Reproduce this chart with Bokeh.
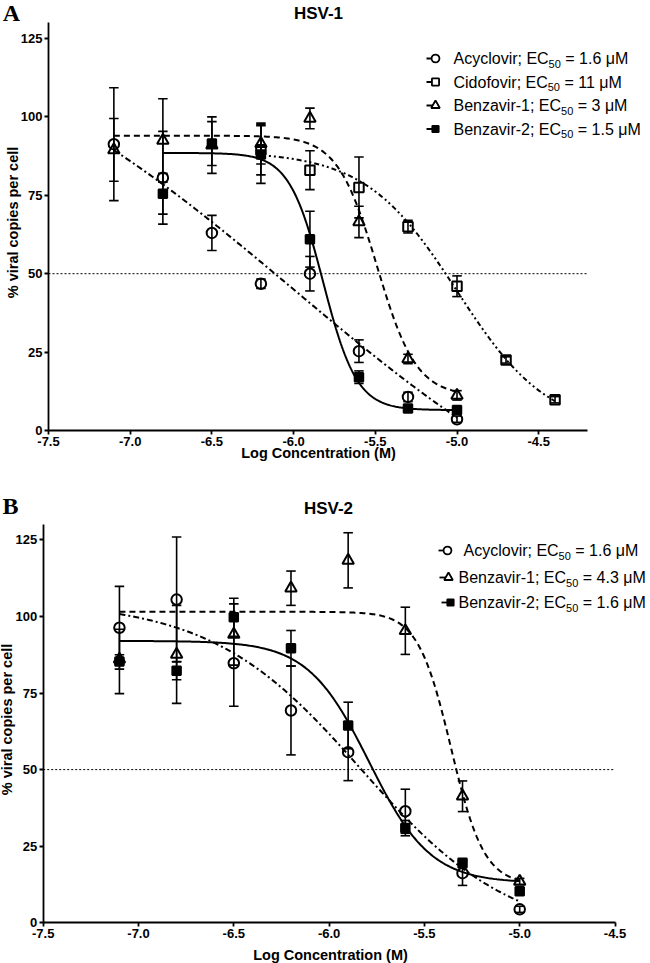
import numpy as np
from bokeh.plotting import figure
from bokeh.models import (Range1d, FixedTicker, PrintfTickFormatter, Whisker,
                          ColumnDataSource, Label, TeeHead)
from bokeh.layouts import column
from bokeh.embed import file_html
from bokeh.resources import INLINE

# ------------------------------------------------------------------ data
X_TICKS = [-7.5, -7.0, -6.5, -6.0, -5.5, -5.0, -4.5]
Y_TICKS = [0, 25, 50, 75, 100, 125]

# ---- Panel A : HSV-1
A_ACY_X = [-7.1, -6.8, -6.5, -6.2, -5.9, -5.6, -5.3, -5.0]
A_ACY_Y = [91.3, 80.6, 63.0, 46.8, 50.0, 25.3, 10.7, 3.6]
A_ACY_E = [18.0, 14.8, 5.6, 1.5, 5.5, 3.6, 1.5, 1.0]
A_ACY_FIT = [140.0, -50.0, -6.0, 0.4]          # top, bottom, logEC50, hill

A_CID_X = [-6.2, -5.9, -5.6, -5.3, -5.0, -4.7, -4.4]
A_CID_Y = [89.5, 83.0, 77.5, 65.0, 46.0, 22.5, 9.8]
A_CID_E = [8.0, 6.2, 9.7, 2.0, 3.3, 1.0, 1.0]
A_CID_FIT = [89.0, 0.0, -5.0, 1.55]

A_BZ1_X = [-7.1, -6.8, -6.5, -6.2, -5.9, -5.6, -5.3, -5.0]
A_BZ1_Y = [89.5, 92.5, 91.0, 91.5, 99.5, 66.5, 22.8, 11.2]
A_BZ1_E = [10.0, 13.3, 9.0, 6.5, 3.3, 5.0, 1.5, 1.5]
A_BZ1_FIT = [94.0, 11.0, -5.49, 3.6]

A_BZ2_X = [-6.8, -6.5, -6.2, -5.9, -5.6, -5.3, -5.0]
A_BZ2_Y = [75.5, 91.5, 88.0, 61.0, 17.0, 7.0, 6.5]
A_BZ2_E = [6.5, 7.0, 9.2, 8.9, 2.0, 1.0, 1.0]
A_BZ2_FIT = [88.5, 6.5, -5.82, 4.2]

A_NAMES = ["Acyclovir", "Cidofovir", "Benzavir-1", "Benzavir-2"]
A_EC50 = ["1.6", "11", "3", "1.5"]

# ---- Panel B : HSV-2
B_ACY_X = [-7.1, -6.8, -6.5, -6.2, -5.9, -5.6, -5.3, -5.0]
B_ACY_Y = [96.3, 105.5, 84.7, 69.3, 55.7, 36.4, 16.2, 4.4]
B_ACY_E = [13.5, 20.4, 14.0, 14.5, 9.3, 7.2, 4.0, 1.0]
B_ACY_FIT = [105.0, -5.0, -5.83, 1.1]

B_BZ1_X = [-7.1, -6.8, -6.5, -6.2, -5.9, -5.6, -5.3, -5.0]
B_BZ1_Y = [86.0, 87.6, 94.1, 109.2, 118.3, 95.3, 41.3, 13.5]
B_BZ1_E = [1.5, 16.0, 10.0, 5.6, 9.0, 7.7, 5.0, 1.0]
B_BZ1_FIT = [101.5, 12.5, -5.36, 5.0]

B_BZ2_X = [-7.1, -6.8, -6.5, -6.2, -5.9, -5.6, -5.3, -5.0]
B_BZ2_Y = [85.3, 82.3, 99.7, 89.6, 64.4, 30.9, 19.5, 10.3]
B_BZ2_E = [10.5, 3.0, 6.2, 5.8, 7.6, 2.5, 1.5, 1.0]
B_BZ2_FIT = [92.0, 13.0, -5.79, 2.7]

B_NAMES = ["Acyclovir", "Benzavir-1", "Benzavir-2"]
B_EC50 = ["1.6", "4.3", "1.6"]

# ------------------------------------------------------------------ styles
STYLE = {
    "Acyclovir":  dict(marker="circle",   fill=None,    size=10.5, dash="6 3 2 3"),
    "Cidofovir":  dict(marker="square",   fill=None,    size=9.5,  dash="5 3 2 3 2 3"),
    "Benzavir-1": dict(marker="triangle", fill=None,    size=11.5, dash="6 4"),
    "Benzavir-2": dict(marker="square",   fill="black", size=8.5,  dash="solid"),
}
FONT = "Liberation Sans"
W = 650

# Arial / Liberation Sans advance widths (per 1000 em)
AW = {'A': 667, 'c': 500, 'y': 500, 'l': 222, 'o': 556, 'v': 500, 'i': 222, 'r': 333,
      ';': 278, ' ': 278, 'E': 667, 'C': 722, 'd': 556, 'f': 278, 'B': 667, 'e': 556,
      'n': 556, 'z': 500, 'a': 556, '-': 333, '=': 584, '.': 278, 'μ': 576, 'M': 833}


def tw(s, size):
    return sum(AW.get(ch, 556) for ch in s) * size / 1000.0


class Panel:
    """Maps picture pixels to data coordinates of one panel."""
    def __init__(self, height, top_off, FL, FB, SX, SY, axis_end):
        self.height, self.top_off = height, top_off
        self.FL, self.FB, self.SX, self.SY = FL, FB, SX, SY
        self.axis_end = axis_end

    def tx(self, xr):
        return -7.5 + (xr - self.FL) / self.SX

    def ty(self, yr):
        return (self.FB - (yr - self.top_off)) / self.SY


def logistic(fit, xs):
    top, bot, x0, h = fit
    xs = np.asarray(xs)
    return bot + (top - bot) / (1.0 + 10.0 ** ((xs - x0) * h))


def label(p, x, y, text, size, bold=False, font=FONT, angle=0.0, align="center",
          x_offset=0.0):
    p.add_layout(Label(x=x, y=y, text=text, text_font=font,
                       text_font_style="bold" if bold else "normal",
                       text_font_size=f"{size}px", angle=angle, text_align=align,
                       text_baseline="middle", text_color="black", x_offset=x_offset))


def build(P, series, names, ec50s, title, letter, title_ref, letter_ref,
          ylab_ref, xlab_ref, mark_x_ref, text_x_ref, rows_ref):
    x_start = -7.5 - P.FL / P.SX
    x_end = -7.5 + (W - P.FL) / P.SX
    y_start = -(P.height - P.FB) / P.SY
    y_end = P.FB / P.SY
    p = figure(width=W, height=P.height, x_range=Range1d(x_start, x_end),
               y_range=Range1d(y_start, y_end), output_backend="svg",
               toolbar_location=None, min_border=0)
    p.outline_line_color = None
    p.grid.visible = False
    p.background_fill_color = "white"
    p.border_fill_color = "white"

    p.xaxis[0].fixed_location = 0
    p.yaxis[0].fixed_location = -7.5
    for ax, ticks, bounds in ((p.xaxis[0], X_TICKS, (-7.5, P.axis_end)),
                              (p.yaxis[0], Y_TICKS, (0, 130))):
        ax.ticker = FixedTicker(ticks=ticks)
        ax.bounds = bounds
        ax.axis_line_width = 1.8
        ax.axis_line_color = "black"
        ax.major_tick_line_width = 1.8
        ax.major_tick_line_color = "black"
        ax.major_tick_out = 4
        ax.major_tick_in = 0
        ax.minor_tick_line_color = None
        ax.major_label_text_font = FONT
        ax.major_label_text_font_style = "bold"
        ax.major_label_text_font_size = "13px"
        ax.major_label_text_color = "black"
        ax.major_label_standoff = 2
    p.xaxis[0].formatter = PrintfTickFormatter(format="%.1f")

    # 50 % reference line
    p.line([-7.5, P.axis_end], [50, 50], line_color="black", line_width=1,
           line_dash="2 2")

    # fitted curves
    for name, (xs, ys, es, fit) in zip(names, series):
        st = STYLE[name]
        cx = np.linspace(min(xs), max(xs), 300)
        p.line(cx, logistic(fit, cx), line_color="black", line_width=2,
               line_dash=st["dash"])
    # error bars
    for name, (xs, ys, es, fit) in zip(names, series):
        src = ColumnDataSource(dict(
            base=xs, lower=[a - b for a, b in zip(ys, es)],
            upper=[a + b for a, b in zip(ys, es)]))
        p.add_layout(Whisker(source=src, base="base", lower="lower", upper="upper",
                             line_color="black", line_width=1.6,
                             upper_head=TeeHead(size=9.5, line_width=1.6, line_color="black"),
                             lower_head=TeeHead(size=9.5, line_width=1.6, line_color="black")))
    # markers
    for name, (xs, ys, es, fit) in zip(names, series):
        st = STYLE[name]
        p.scatter(xs, ys, marker=st["marker"], size=st["size"], line_color="black",
                  line_width=2, fill_color=st["fill"])

    # legend (glyph + text with subscript)
    fs, fsub = 16, 11
    for i, (name, ec) in enumerate(zip(names, ec50s)):
        st = STYLE[name]
        yd = P.ty(rows_ref[i])
        mx = mark_x_ref[i]
        p.line([P.tx(mx - 9), P.tx(mx + 3)], [yd, yd], line_color="black", line_width=1.8)
        p.scatter([P.tx(mx)], [yd], marker=st["marker"], size=st["size"] * 0.75,
                  line_color="black", line_width=1.8, fill_color=st["fill"] or "white")
        xt = P.tx(text_x_ref[i])
        s1, s2, s3 = f"{name}; EC", "50", f"= {ec} μM"
        label(p, xt, yd, s1, fs, align="left")
        label(p, xt, yd - 5.0 / P.SY, s2, fsub, align="left", x_offset=tw(s1, fs))
        label(p, xt, yd, s3, fs, align="left",
              x_offset=tw(s1, fs) + tw(s2, fsub) + tw(" ", fs))

    # title, panel letter, axis titles
    label(p, P.tx(title_ref[0]), P.ty(title_ref[1]), title, 17, bold=True)
    label(p, P.tx(letter_ref[0]), P.ty(letter_ref[1]), letter, 24, bold=True,
          font="Liberation Serif")
    label(p, P.tx(ylab_ref[0]), P.ty(ylab_ref[1]), "% viral copies per cell", 14.5,
          bold=True, angle=np.pi / 2)
    label(p, P.tx(xlab_ref[0]), P.ty(xlab_ref[1]), "Log Concentration (M)", 14.5,
          bold=True)
    return p


PA = Panel(height=466, top_off=0.0, FL=48.0, FB=430.0, SX=163.4, SY=3.136, axis_end=-4.2)
PB = Panel(height=497, top_off=466.0, FL=42.7, FB=456.3, SX=190.6, SY=3.064, axis_end=-4.5)

pa = build(PA,
           [(A_ACY_X, A_ACY_Y, A_ACY_E, A_ACY_FIT),
            (A_CID_X, A_CID_Y, A_CID_E, A_CID_FIT),
            (A_BZ1_X, A_BZ1_Y, A_BZ1_E, A_BZ1_FIT),
            (A_BZ2_X, A_BZ2_Y, A_BZ2_E, A_BZ2_FIT)],
           A_NAMES, A_EC50, "HSV-1", "A",
           title_ref=(318, 13), letter_ref=(11, 12), ylab_ref=(12.5, 222),
           xlab_ref=(318, 452), mark_x_ref=[435, 435, 435, 435],
           text_x_ref=[453, 453, 453, 453], rows_ref=[58, 81.5, 105, 128.5])

pb = build(PB,
           [(B_ACY_X, B_ACY_Y, B_ACY_E, B_ACY_FIT),
            (B_BZ1_X, B_BZ1_Y, B_BZ1_E, B_BZ1_FIT),
            (B_BZ2_X, B_BZ2_Y, B_BZ2_E, B_BZ2_FIT)],
           B_NAMES, B_EC50, "HSV-2", "B",
           title_ref=(328, 508), letter_ref=(10, 505), ylab_ref=(6.5, 719),
           xlab_ref=(330, 954), mark_x_ref=[447, 448, 450],
           text_x_ref=[463, 458, 458], rows_ref=[550, 577, 602])

layout = column(pa, pb)
open("out.html", "w").write(file_html(layout, INLINE))
